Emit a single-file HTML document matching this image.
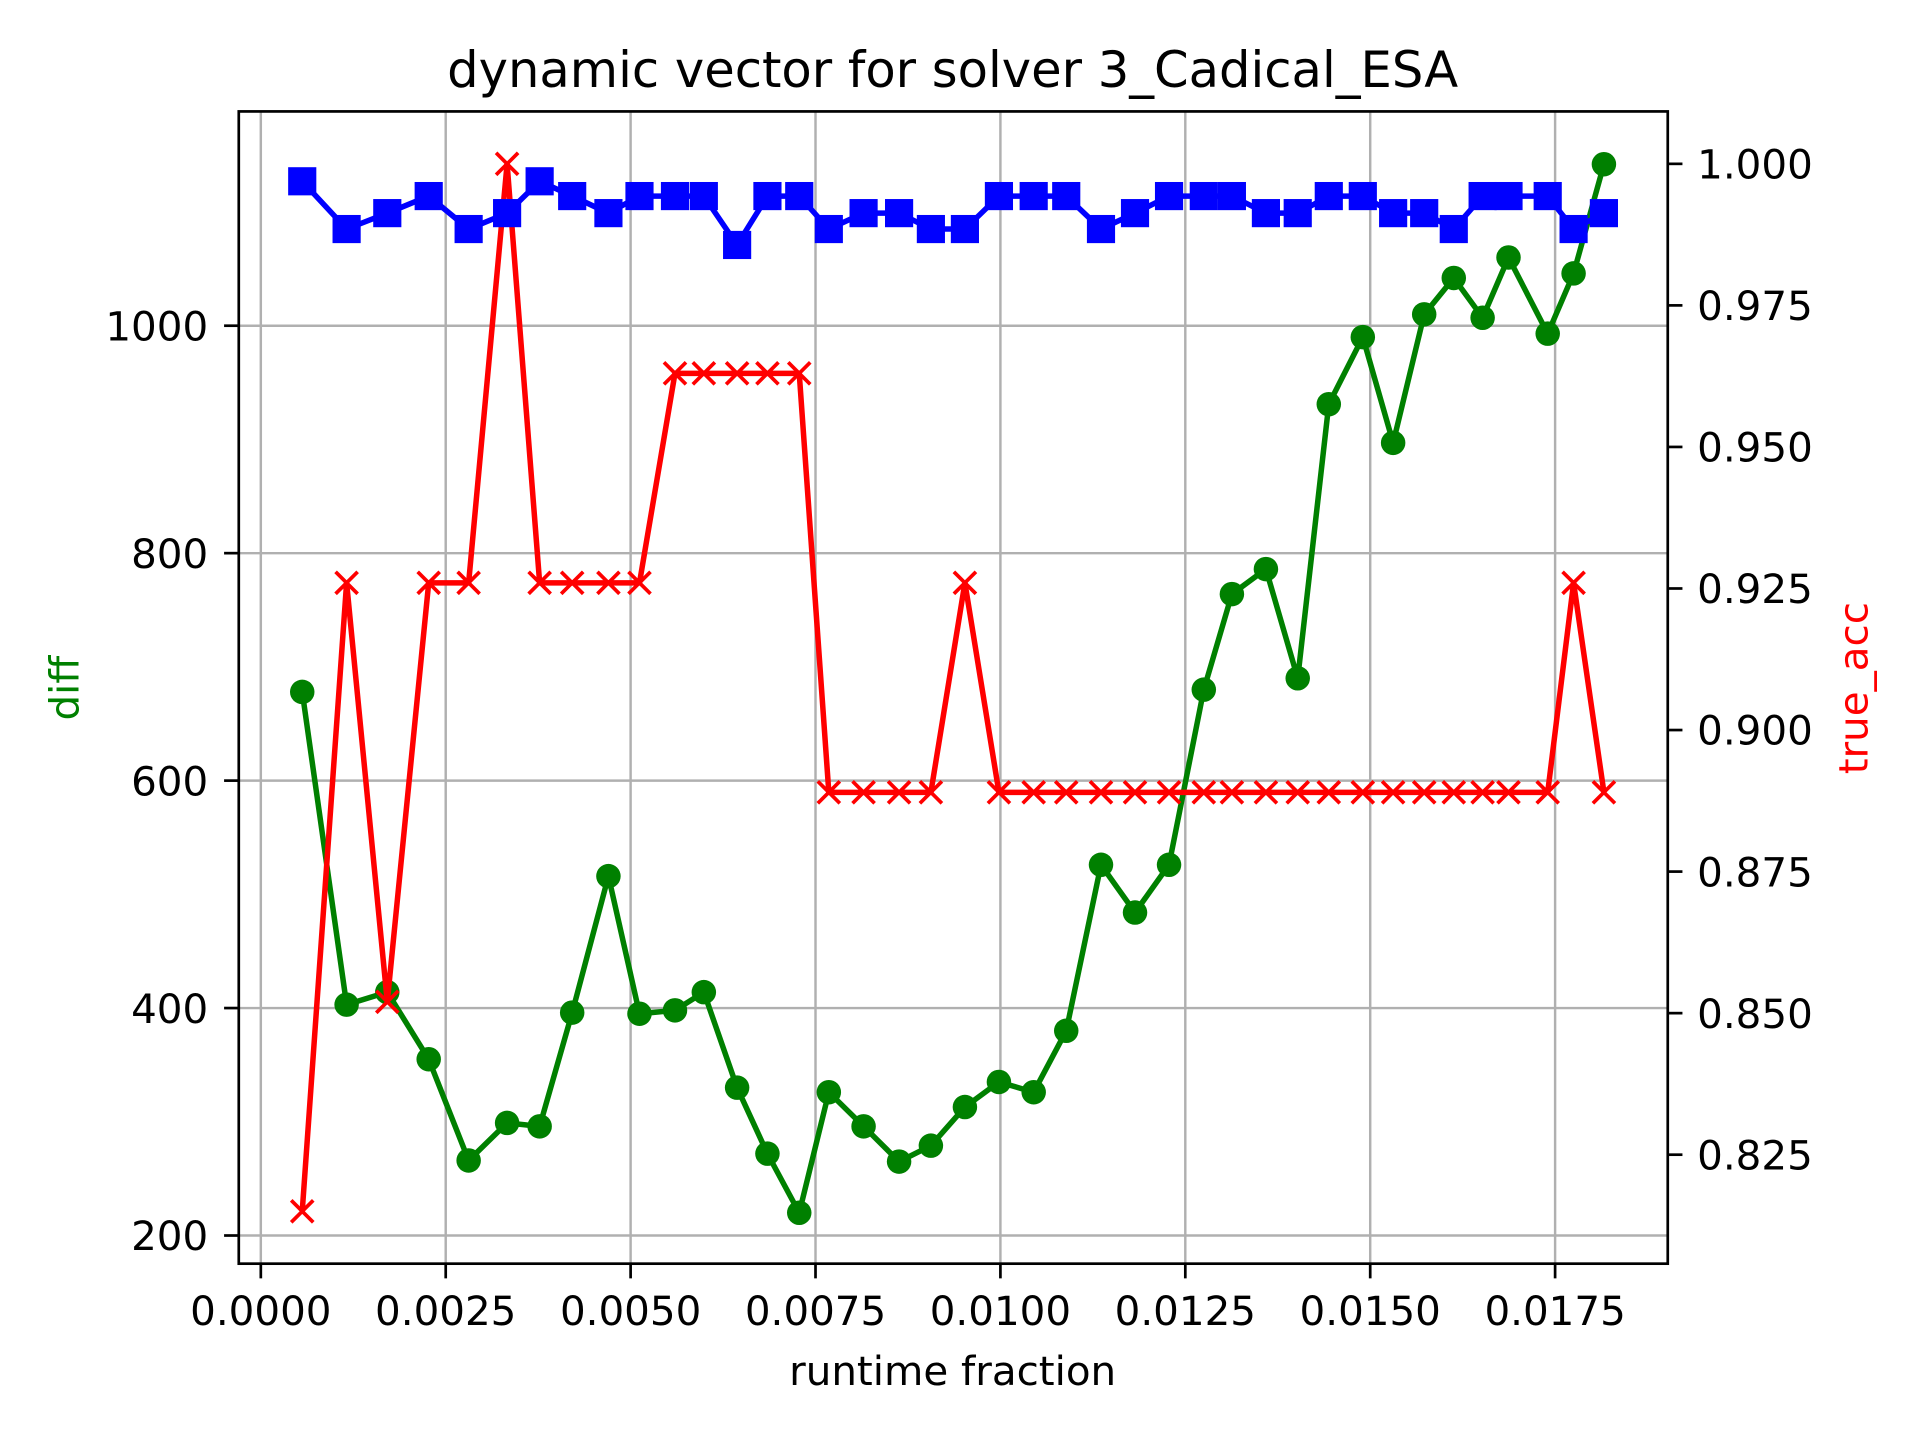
<!DOCTYPE html>
<html><head><meta charset="utf-8"><style>
html,body{margin:0;padding:0;background:#fff}
svg{display:block}
text{font-family:"DejaVu Sans","Liberation Sans",sans-serif}
</style></head><body>
<svg id="chart" width="1920" height="1440" viewBox="0 0 1568 1176" preserveAspectRatio="none" xmlns="http://www.w3.org/2000/svg">
<rect width="1568" height="1176" fill="#fff"/>
<g id="grid"></g>
<g id="series"></g>
<rect x="195" y="91" width="1167" height="941" fill="none" stroke="#000" stroke-width="2.2"/>
<g id="axes"></g>
<text x="778" y="71" font-size="40.5" text-anchor="middle">dynamic vector for solver 3_Cadical_ESA</text>
<text x="778" y="1131" font-size="33" text-anchor="middle">runtime fraction</text>
<text x="64" y="562" font-size="33" fill="green" text-anchor="middle" transform="rotate(-90 64 562)">diff</text>
<text x="1525" y="562" font-size="33" fill="red" text-anchor="middle" transform="rotate(-90 1525 562)">true_acc</text>
</svg>
<script>
const xPix = [247,283,316,350,383,414,441,467,497,522,551,575,602,627,653,677,705,734,760,788,816,844,871,899,927,955,983,1006,1034,1060,1085,1113,1138,1163,1187,1211,1232,1264,1285,1310];
const runtime = xPix.map(p => +((p-213)/151*0.0025).toFixed(5));
const diffVals = [678,403,414,355,266,299,296,396,516,395,398,414,330,272,220,326,296,265,279,313,335,326,380,526,484,526,680,764,786,690,931,990,897,1010,1042,1007,1060,993,1046,1142];
const blueVals = [1127,1085,1099,1114,1085,1099,1127,1114,1099,1114,1114,1114,1071,1114,1114,1085,1099,1099,1085,1085,1114,1114,1114,1085,1099,1114,1114,1114,1099,1099,1114,1114,1099,1099,1085,1114,1114,1114,1085,1099];
const accVals = [0.815,0.926,0.852,0.926,0.926,1.0,0.926,0.926,0.926,0.926,0.963,0.963,0.963,0.963,0.963,0.889,0.889,0.889,0.889,0.926,0.889,0.889,0.889,0.889,0.889,0.889,0.889,0.889,0.889,0.889,0.889,0.889,0.889,0.889,0.889,0.889,0.889,0.889,0.926,0.889];
const xTicks = [0,0.0025,0.005,0.0075,0.01,0.0125,0.015,0.0175];
const xTickLabels = ["0.0000","0.0025","0.0050","0.0075","0.0100","0.0125","0.0150","0.0175"];
const yTicks = [200,400,600,800,1000];
const y2Ticks = [0.825,0.85,0.875,0.9,0.925,0.95,0.975,1.0];
const y2TickLabels = ["0.825","0.850","0.875","0.900","0.925","0.950","0.975","1.000"];

const NS="http://www.w3.org/2000/svg";
const X = v => 213 + v/0.0025*151;
const Y = v => 1009 - (v-200)/200*185.75;
const Y2 = v => 943 - (v-0.825)/0.025*115.6;
function mk(tag, attrs, parent){const e=document.createElementNS(NS,tag);for(const k in attrs)e.setAttribute(k,attrs[k]);parent.appendChild(e);return e;}
const grid=document.getElementById('grid'), axes=document.getElementById('axes'), ser=document.getElementById('series');
xTicks.forEach((t,i)=>{
  const g=mk('line',{x1:X(t),x2:X(t),y1:91,y2:1032,stroke:'#b0b0b0','stroke-width':2},grid);
  
  
  const tk=mk('line',{x1:X(t),x2:X(t),y1:1032,y2:1044,stroke:'#000','stroke-width':2.2},axes);
  
  
  const tx=mk('text',{x:X(t),y:1082,'font-size':33,'text-anchor':'middle'},axes);
  tx.textContent=xTickLabels[i];
  
  
});
yTicks.forEach(t=>{
  const g=mk('line',{x1:195,x2:1362,y1:Y(t),y2:Y(t),stroke:'#b0b0b0','stroke-width':2},grid);
  
  
  const tk=mk('line',{x1:183,x2:195,y1:Y(t),y2:Y(t),stroke:'#000','stroke-width':2.2},axes);
  
  
  const tx=mk('text',{x:170,y:Y(t)+12,'font-size':33,'text-anchor':'end'},axes);
  tx.textContent=t;
  
  
});
y2Ticks.forEach((t,i)=>{
  const tk=mk('line',{x1:1362,x2:1374,y1:Y2(t),y2:Y2(t),stroke:'#000','stroke-width':2.2},axes);
  
  
  const tx=mk('text',{x:1386,y:Y2(t)+12,'font-size':33},axes);
  tx.textContent=y2TickLabels[i];
  
  
});
const gp=mk('polyline',{points:runtime.map((r,i)=>X(r)+','+Y(diffVals[i])).join(' '),fill:'none',stroke:'green','stroke-width':4.5},ser);


runtime.forEach((r,i)=>{
  const c=mk('circle',{cx:X(r),cy:Y(diffVals[i]),r:10,fill:'green'},ser);
  
  
});
const rp=mk('polyline',{points:runtime.map((r,i)=>X(r)+','+Y2(accVals[i])).join(' '),fill:'none',stroke:'red','stroke-width':4.5},ser);


runtime.forEach((r,i)=>{
  const x=X(r),y=Y2(accVals[i]),s=9;
  const p=mk('path',{d:`M${x-s},${y-s}L${x+s},${y+s}M${x-s},${y+s}L${x+s},${y-s}`,stroke:'red','stroke-width':3,fill:'none'},ser);
  
  
});
const bp=mk('polyline',{points:runtime.map((r,i)=>X(r)+','+Y(blueVals[i])).join(' '),fill:'none',stroke:'blue','stroke-width':4.5},ser);


runtime.forEach((r,i)=>{
  const q=mk('rect',{x:X(r)-11.5,y:Y(blueVals[i])-11.5,width:23,height:23,fill:'blue'},ser);
  
  
});
</script>
</body></html>
